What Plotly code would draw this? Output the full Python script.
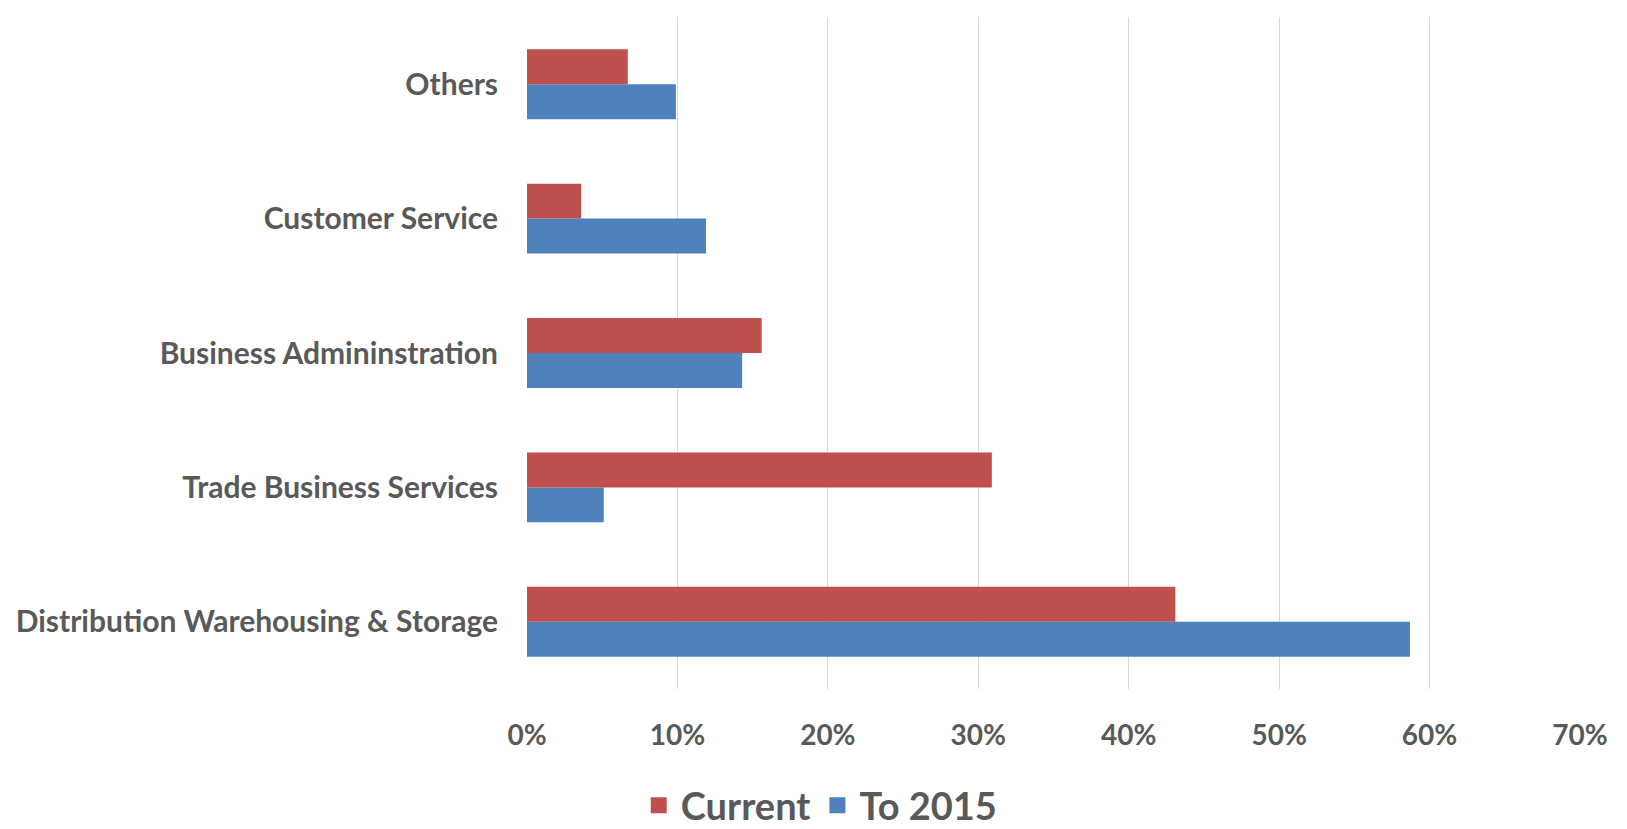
import plotly.graph_objects as go

categories = ["Distribution Warehousing & Storage", "Trade Business Services",
              "Business Admininstration", "Customer Service", "Others"]
current = [43.1, 30.9, 15.6, 3.6, 6.7]
to_2015 = [58.7, 5.1, 14.3, 11.9, 9.9]
tick_vals = [0, 10, 20, 30, 40, 50, 60, 70]
tick_labels = ["0%", "10%", "20%", "30%", "40%", "50%", "60%", "70%"]

RED = "#C0504D"
BLUE = "#4F81BD"
GREY = "#595959"
FONT = "Lato"

fig = go.Figure()
fig.add_trace(go.Bar(y=categories, x=to_2015, name="To 2015", orientation="h",
                     marker=dict(color=BLUE, line=dict(width=0)), showlegend=False))
fig.add_trace(go.Bar(y=categories, x=current, name="Current", orientation="h",
                     marker=dict(color=RED, line=dict(width=0)), showlegend=False))
# legend entries with larger square swatches
for name, color in [("Current", RED), ("To 2015", BLUE)]:
    fig.add_trace(go.Scatter(x=[None], y=[None], mode="markers", name=name,
                             marker=dict(symbol="square", size=22, color=color),
                             showlegend=True))

fig.update_layout(
    width=1627, height=829,
    margin=dict(l=519, r=55, t=9, b=148, autoexpand=False),
    paper_bgcolor="white", plot_bgcolor="white",
    barmode="group", bargap=0.48, bargroupgap=0,
    font=dict(family=FONT, color=GREY),
    legend=dict(orientation="h", traceorder="normal",
                x=0.278, xanchor="center",
                yref="container", y=0.0, yanchor="bottom",
                font=dict(size=38, family=FONT, color=GREY, weight="bold"),
                itemwidth=34, itemsizing="trace"),
    showlegend=True,
)
fig.update_xaxes(range=[0, 70], tickvals=tick_vals, ticktext=tick_labels,
                 showgrid=True, gridcolor="#D9D9D9", gridwidth=1,
                 zeroline=False, showline=False, ticks="", automargin=False,
                 ticklabelstandoff=27,
                 tickfont=dict(size=28, family=FONT, color=GREY, weight="bold"))
fig.update_yaxes(showgrid=False, zeroline=False, showline=False, ticks="",
                 automargin=False, ticklabelstandoff=28,
                 tickfont=dict(size=30, family=FONT, color=GREY, weight="bold"))

fig.write_html("out.html")
